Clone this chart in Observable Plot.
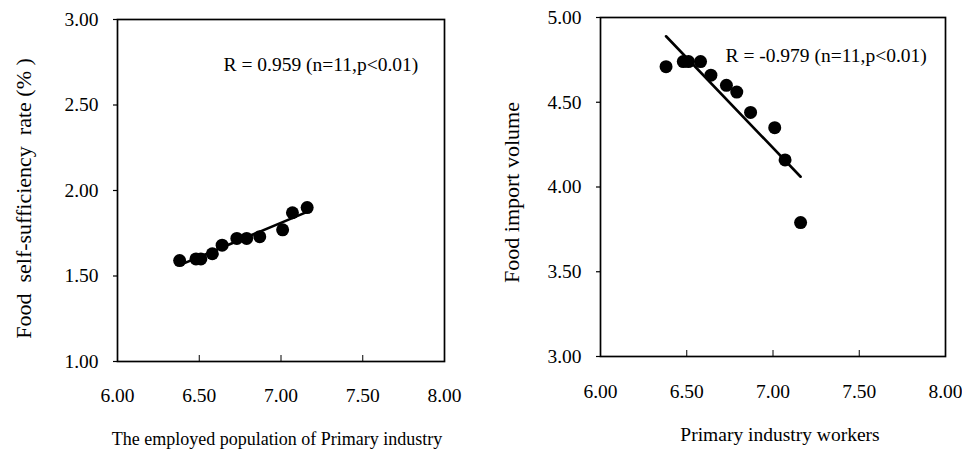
<!DOCTYPE html>
<html><head><meta charset="utf-8">
<script src="https://cdn.jsdelivr.net/npm/d3@7"></script>
<script src="https://cdn.jsdelivr.net/npm/@observablehq/plot@0.6"></script>
<style>
body{margin:0;background:#fff;}
#wrap{display:flex;width:962px;height:450px;}
#wrap > div{width:481px;height:450px;}
svg text{font-family:'Liberation Serif','Times New Roman',serif;}
</style></head><body><div id="wrap"><div id="left"></div><div id="right"></div></div>
<script>
// Data
const primaryWorkers = [6.38, 6.48, 6.51, 6.58, 6.64, 6.73, 6.79, 6.87, 7.01, 7.07, 7.16];
const selfSufficiency = [1.59, 1.60, 1.60, 1.63, 1.68, 1.72, 1.72, 1.73, 1.77, 1.87, 1.90];
const importVolume = [4.71, 4.74, 4.74, 4.74, 4.66, 4.60, 4.56, 4.44, 4.35, 4.16, 3.79];
const xTicks = [6.0, 6.5, 7.0, 7.5, 8.0];
const yTicksLeft = [1.0, 1.5, 2.0, 2.5, 3.0];
const yTicksRight = [3.0, 3.5, 4.0, 4.5, 5.0];
const leftXLabel = "The employed population of Primary industry";
const leftYLabel = "Food\u00a0\u00a0self-sufficiency\u00a0\u00a0rate (%\u00a0)";
const leftNote = "R = 0.959 (n=11,p<0.01)";
const rightXLabel = "Primary industry workers";
const rightYLabel = "Food import volume";
const rightNote = "R = -0.979 (n=11,p<0.01)";

const fmt = d3.format(".2f");
const FONT = "'Liberation Serif', 'Times New Roman', serif";

function panel(c) {
  const W = 481, H = 450;
  const fh = H - c.mT - c.mB;
  const data = primaryWorkers.map((x, i) => ({x, y: c.ys[i]}));
  return Plot.plot({
    width: W, height: H,
    marginLeft: c.mL, marginRight: c.mR, marginTop: c.mT, marginBottom: c.mB,
    x: {domain: [xTicks[0], xTicks[xTicks.length - 1]], label: null},
    y: {domain: [c.yTicks[0], c.yTicks[c.yTicks.length - 1]], label: null},
    style: {fontFamily: FONT, fontSize: "19.5px", color: "#000", background: "#fff", overflow: "visible"},
    marks: [
      Plot.axisY(c.yTicks, {tickSize: 4, tickPadding: 15, tickFormat: fmt, label: null, stroke: "#000", strokeWidth: 1.2, fontFamily: FONT, fontSize: 19.5, fill: "#000"}),
      Plot.axisX(xTicks, {tickSize: 0, tickPadding: c.xPad, tickFormat: fmt, label: null, fontFamily: FONT, fontSize: 19.5, fill: "#000"}),
      Plot.ruleX(xTicks, {x: d => d, insetTop: fh - 6, stroke: "#000", strokeWidth: 1}),
      Plot.frame({stroke: "#000", strokeWidth: 1.7}),
      Plot.linearRegressionY(data, {x: "x", y: "y", ci: 0, stroke: "#000", strokeWidth: 2.6}),
      Plot.dot(data, {x: "x", y: "y", r: 6.5, fill: "#000", stroke: null}),
      Plot.text([c.note], {text: d => d, frameAnchor: "top-left", textAnchor: "start", lineAnchor: "top", dx: c.noteDx, dy: c.noteDy, fontSize: 19.5, fontFamily: FONT, fill: "#000"}),
      Plot.text([c.xLabel], {text: d => d, frameAnchor: "bottom", textAnchor: "middle", lineAnchor: "top", dx: c.xlDx, dy: c.xlDy, fontSize: c.xlSize, fontFamily: FONT, fill: "#000"}),
      Plot.text([c.yLabel], {text: d => d, frameAnchor: "left", textAnchor: "middle", lineAnchor: "middle", rotate: -90, dx: c.ylDx, dy: c.ylDy, fontSize: 22, fontFamily: FONT, fill: "#000"})
    ]
  });
}

document.getElementById("left").append(panel({
  ys: selfSufficiency, yTicks: yTicksLeft,
  mL: 117, mR: 37, mT: 19, mB: 89, xPad: 27,
  note: leftNote, noteDx: 106, noteDy: 38,
  xLabel: leftXLabel, xlDx: -4, xlDy: 71, xlSize: 18,
  yLabel: leftYLabel, ylDx: -94, ylDy: 8
}));
document.getElementById("right").append(panel({
  ys: importVolume, yTicks: yTicksRight,
  mL: 119, mR: 17, mT: 17, mB: 94, xPad: 28,
  note: rightNote, noteDx: 125, noteDy: 31,
  xLabel: rightXLabel, xlDx: 7, xlDy: 71, xlSize: 19.5,
  yLabel: rightYLabel, ylDx: -89, ylDy: 5.5
}));
</script></body></html>
